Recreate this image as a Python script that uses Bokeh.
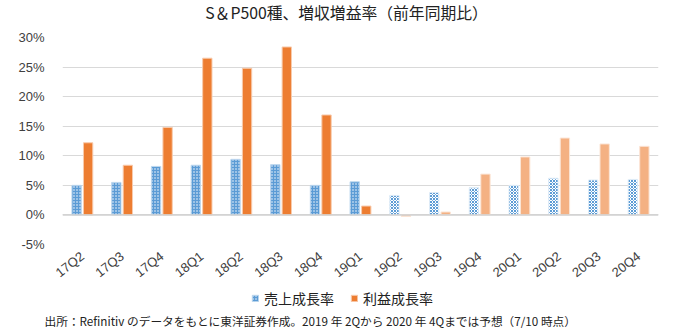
from bokeh.plotting import figure
from bokeh.models import (ColumnDataSource, FactorRange, Legend, LegendItem, Label,
                          Span, FixedTicker, CustomJSTickFormatter, Range1d)
from bokeh.layouts import column
from bokeh.transform import dodge
from bokeh.embed import file_html
from bokeh.resources import INLINE
import math

quarters = ["17Q2", "17Q3", "17Q4", "18Q1", "18Q2", "18Q3", "18Q4", "19Q1",
            "19Q2", "19Q3", "19Q4", "20Q1", "20Q2", "20Q3", "20Q4"]
sales_growth = [5.0, 5.5, 8.2, 8.4, 9.4, 8.5, 5.0, 5.6, 3.3, 3.8, 4.6, 5.0, 6.2, 5.9, 6.0]
earnings_growth = [12.2, 8.4, 14.8, 26.5, 24.8, 28.4, 16.9, 1.5, -0.25, 0.5, 6.9, 9.8, 13.0, 12.0, 11.6]
is_forecast = [False] * 8 + [True] * 7
y_ticks = [-5, 0, 5, 10, 15, 20, 25, 30]

title_text = "S＆P500種、増収増益率（前年同期比）"
legend_sales = "売上成長率"
legend_earn = "利益成長率"
footnote = "出所：Refinitiv のデータをもとに東洋証券作成。2019 年 2Qから 2020 年 4Qまでは予想（7/10 時点）"

SALES_ACT = dict(fill_color="#5B9BD5", line_color="#BDD7EE", line_width=1,
                 hatch_pattern="dot", hatch_color="white", hatch_scale=3, hatch_weight=1)
SALES_FC = dict(fill_color="white", line_color="#DDEBF7", line_width=1,
                hatch_pattern="diagonal_cross", hatch_color="#5B9BD5", hatch_scale=3, hatch_weight=1)
EARN_ACT = dict(fill_color="#ED7D31", line_color="#F8CBAD", line_width=1)
EARN_FC = dict(fill_color="#F4B183", line_color="#FBE5D6", line_width=1)
JP_FONT = "Noto Sans CJK JP"

def subset(flag):
    idx = [i for i, f in enumerate(is_forecast) if f == flag]
    return ColumnDataSource(dict(
        q=[quarters[i] for i in idx],
        s=[sales_growth[i] for i in idx],
        e=[earnings_growth[i] for i in idx],
    ))

def strip(height):
    f = figure(width=680, height=height, x_range=Range1d(0, 1), y_range=Range1d(0, 1),
               x_axis_type=None, y_axis_type=None,
               output_backend="svg", toolbar_location=None,
               min_border_left=0, min_border_right=0, min_border_top=0, min_border_bottom=0)
    f.frame_align = False
    f.grid.visible = False
    f.outline_line_color = None
    return f

src_act = subset(False)
src_fc = subset(True)

# title strip
p0 = strip(26)
p0.add_layout(Label(x=346, y=14, x_units="screen", y_units="screen", text=title_text,
                    text_align="center", text_baseline="middle",
                    text_font=JP_FONT, text_font_size="15.8px", text_color="#222222"), "center")

# main chart
p = figure(width=680, height=262, x_range=FactorRange(*quarters), y_range=(-5, 30),
           output_backend="svg", toolbar_location=None,
           min_border_left=62, min_border_right=22, min_border_top=11, min_border_bottom=41)
p.frame_align = False

bw = 0.235
off = 0.145

p.vbar(x=dodge("q", -off, range=p.x_range), top="s", bottom=0, width=bw, source=src_act, **SALES_ACT)
p.vbar(x=dodge("q", -off, range=p.x_range), top="s", bottom=0, width=bw, source=src_fc, **SALES_FC)
p.vbar(x=dodge("q", off, range=p.x_range), top="e", bottom=0, width=bw, source=src_act, **EARN_ACT)
p.vbar(x=dodge("q", off, range=p.x_range), top="e", bottom=0, width=bw, source=src_fc, **EARN_FC)

p.add_layout(Span(location=0, dimension="width", line_color="#D0D0D0", line_width=1.5), "center")

p.yaxis.ticker = FixedTicker(ticks=y_ticks)
p.yaxis.formatter = CustomJSTickFormatter(code="return tick + '%';")
for ax in (p.xaxis[0], p.yaxis[0]):
    ax.axis_line_color = None
    ax.major_tick_line_color = None
    ax.minor_tick_line_color = None
    ax.major_label_text_font = "Liberation Sans"
    ax.major_label_text_font_size = "13px"
    ax.major_label_text_color = "#404040"
p.yaxis.major_label_standoff = 12
p.xaxis.major_label_orientation = math.radians(38)
p.xaxis.major_label_standoff = 4

p.xgrid.grid_line_color = None
p.ygrid.grid_line_color = "#D9D9D9"
p.ygrid.grid_line_width = 1
p.outline_line_color = None

# bottom strip: legend and source note
p2 = strip(44)
proxy = ColumnDataSource(dict(x=[0.5], top=[-2.0], bottom=[-3.0]))  # below the strip's visible range
d1 = p2.vbar(x="x", top="top", bottom="bottom", width=0.1, source=proxy, **SALES_ACT)
d2 = p2.vbar(x="x", top="top", bottom="bottom", width=0.1, source=proxy, **EARN_ACT)

legend = Legend(items=[LegendItem(label=legend_sales, renderers=[d1]),
                       LegendItem(label=legend_earn, renderers=[d2])],
                orientation="horizontal", location=(251, 24),
                label_text_font=JP_FONT, label_text_font_size="14px",
                label_text_color="#222222", glyph_width=8, glyph_height=8,
                spacing=16, padding=0, margin=0, border_line_color=None,
                background_fill_alpha=0, label_standoff=5)
p2.add_layout(legend, "center")

p2.add_layout(Label(x=44, y=12, x_units="screen", y_units="screen", text=footnote,
                    text_baseline="middle",
                    text_font=JP_FONT, text_font_size="11.7px",
                    text_color="#222222"), "center")

layout = column(p0, p, p2, spacing=0)
open("out.html", "w").write(file_html(layout, INLINE))
